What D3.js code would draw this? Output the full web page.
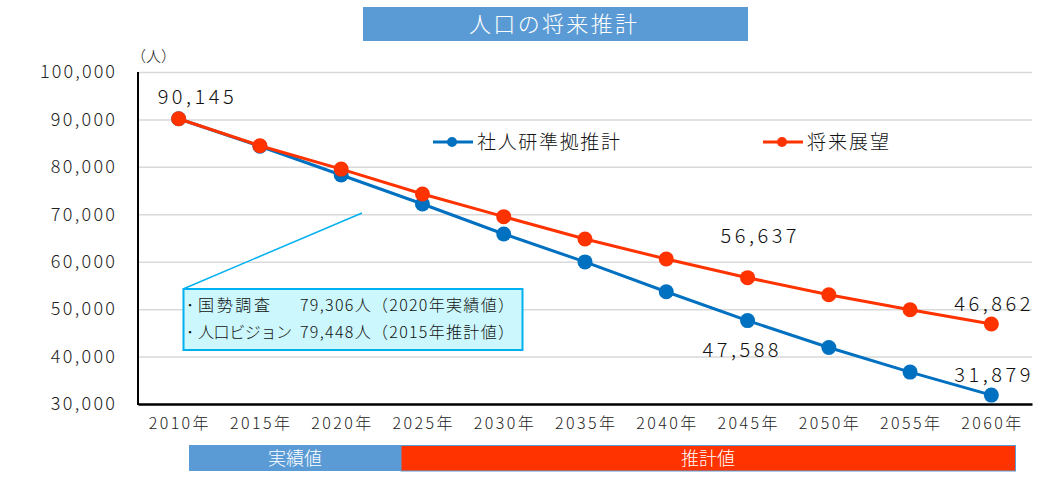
<!DOCTYPE html>
<html><head><meta charset="utf-8">
<script src="https://cdn.jsdelivr.net/npm/d3@7"></script>
<style>body{margin:0;background:#fff}svg{display:block}text{font-family:"Noto Sans CJK JP","Noto Sans",sans-serif;font-weight:300}</style>
</head><body><svg id="c" width="1061" height="504"></svg>
<script>
const years = ["2010年","2015年","2020年","2025年","2030年","2035年","2040年","2045年","2050年","2055年","2060年"];
const ipssValues = [90145,84350,78280,72170,65850,59960,53670,47588,41920,36730,31879];
const visionValues = [90145,84450,79530,74270,69500,64800,60570,56637,53040,49870,46862];
const yTicks = [30000,40000,50000,60000,70000,80000,90000,100000];
const seriesNames = ["社人研準拠推計","将来展望"];
const title = "人口の将来推計";
const calloutLines = [["国勢調査","79,306人（2020年実績値）"],["人口ビジョン","79,448人（2015年推計値）"]];
const phaseLabels = ["実績値","推計値"];

const svg = d3.select("#c");
const blue = "#0070c0", orange = "#ff3300";
const x = d3.scaleBand().domain(years).range([138,1032]).padding(0);
const xc = d => x(d) + x.bandwidth()/2;
const y = d3.scaleLinear().domain([30000,100000]).range([404,72]);

// title
svg.append("rect").attr("x",363).attr("y",7).attr("width",385).attr("height",34).attr("fill","#5b9bd5");
svg.append("text").attr("x",469).attr("y",32).attr("fill","#fff").attr("font-size",22)
  .attr("textLength",168).attr("lengthAdjust","spacing").text(title);

// grid
const gy = svg.append("g").attr("transform","translate(138,0)")
  .call(d3.axisLeft(y).tickValues(yTicks).tickSize(-894).tickFormat(d3.format(",")).tickPadding(23));
gy.select(".domain").remove();
gy.selectAll(".tick line").attr("stroke","#d9d9d9").attr("stroke-width",1.5);
gy.selectAll(".tick text").attr("font-size",18).attr("fill","#222")
  .attr("textLength",function(){return this.textContent.length*10.7;}).attr("lengthAdjust","spacing");
svg.append("text").attr("x",131).attr("y",62).attr("font-size",15).attr("fill","#222").text("（人）");

// axes lines
svg.append("line").attr("x1",138).attr("x2",138).attr("y1",72).attr("y2",405).attr("stroke","#000").attr("stroke-width",2);
const gx = svg.append("g").attr("transform","translate(0,404)").call(d3.axisBottom(x).tickSize(0).tickPadding(14));
gx.select(".domain").attr("stroke","#000").attr("stroke-width",2.5);
gx.selectAll(".tick text").attr("font-size",16).attr("fill","#222").attr("textLength",60).attr("lengthAdjust","spacing");

// callout
svg.append("line").attr("x1",183).attr("y1",289).attr("x2",362).attr("y2",213).attr("stroke","#00b0f0").attr("stroke-width",1.5);
svg.append("rect").attr("x",183.5).attr("y",289).attr("width",339).attr("height",61).attr("fill","#ccf7fc").attr("stroke","#00b0f0").attr("stroke-width",2);
calloutLines.forEach((l,i)=>{
  const by = 311+i*27;
  svg.append("text").attr("x",186).attr("y",by).attr("font-size",16).attr("fill","#111").text("･");
  svg.append("text").attr("x",198).attr("y",by).attr("font-size",16).attr("fill","#111")
    .attr("textLength",i===0?72:94).attr("lengthAdjust","spacing").text(l[0]);
  svg.append("text").attr("x",300).attr("y",by).attr("font-size",16).attr("fill","#111").attr("textLength",214).attr("lengthAdjust","spacing").text(l[1]);
});

// series
const line = d3.line().x((d,i)=>xc(years[i])).y(d=>y(d));
[[ipssValues,blue],[visionValues,orange]].forEach(([vals,col])=>{
  svg.append("path").datum(vals).attr("d",line).attr("fill","none").attr("stroke",col).attr("stroke-width",3);
  svg.append("g").selectAll("circle").data(vals).join("circle")
    .attr("cx",(d,i)=>xc(years[i])).attr("cy",d=>y(d)).attr("r",7.5).attr("fill",col);
});

// data labels
const fmt = d3.format(",");
const lab = (v,cx,by)=>svg.append("text").attr("x",cx-38).attr("y",by).attr("font-size",20).attr("fill","#111")
  .attr("textLength",76).attr("lengthAdjust","spacing").text(fmt(v));
lab(visionValues[0], xc(years[0])+17, 104);
lab(visionValues[7], xc(years[7])+11, 243);
lab(ipssValues[7], xc(years[7])-7, 357);
lab(visionValues[10], xc(years[10])+1, 311);
lab(ipssValues[10], xc(years[10])+1, 382);

// legend
[[seriesNames[0],blue,433,143],[seriesNames[1],orange,763,82]].forEach(([n,col,lx,tl])=>{
  svg.append("line").attr("x1",lx).attr("x2",lx+40).attr("y1",142).attr("y2",142).attr("stroke",col).attr("stroke-width",3);
  svg.append("circle").attr("cx",lx+19).attr("cy",142).attr("r",5).attr("fill",col);
  svg.append("text").attr("x",lx+44).attr("y",149).attr("font-size",19).attr("fill","#111")
    .attr("textLength",tl).attr("lengthAdjust","spacing").text(n);
});

// phase bars
svg.append("rect").attr("x",189).attr("y",445).attr("width",212).attr("height",26).attr("fill","#5b9bd5");
svg.append("rect").attr("x",401).attr("y",445.5).attr("width",614.5).attr("height",25.5).attr("fill",orange).attr("stroke","#5b9bd5").attr("stroke-width",1);
svg.append("text").attr("x",295).attr("y",465).attr("text-anchor","middle").attr("fill","#fff").attr("font-size",18).text(phaseLabels[0]);
svg.append("text").attr("x",708).attr("y",465).attr("text-anchor","middle").attr("fill","#fff").attr("font-size",18).text(phaseLabels[1]);
</script></body></html>
